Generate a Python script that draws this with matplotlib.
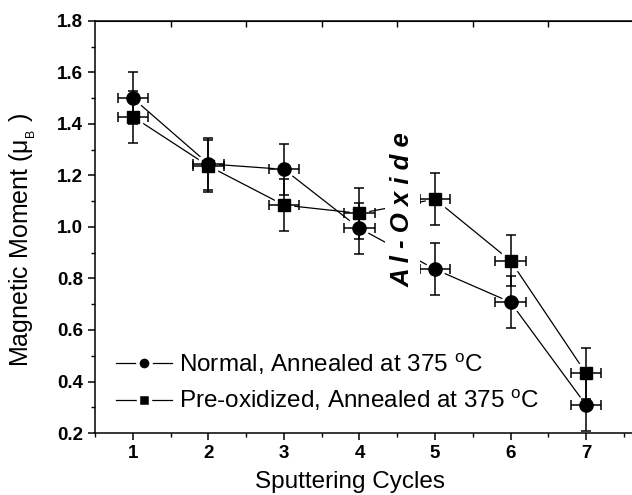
import matplotlib
matplotlib.use("Agg")
import matplotlib.pyplot as plt
from matplotlib.lines import Line2D
from matplotlib.ticker import MultipleLocator

plt.rcParams["font.family"] = ["Liberation Sans", "DejaVu Sans"]
plt.rcParams["mathtext.fontset"] = "custom"
plt.rcParams["mathtext.rm"] = "Liberation Sans"
plt.rcParams["mathtext.it"] = "Liberation Sans:italic"

cycles = [1, 2, 3, 4, 5, 6, 7]
normal = [1.50, 1.245, 1.224, 0.995, 0.836, 0.708, 0.309]
normal_err = [0.10, 0.10, 0.10, 0.10, 0.10, 0.10, 0.10]
preox = [1.428, 1.237, 1.085, 1.053, 1.108, 0.869, 0.432]
preox_err = [0.10, 0.10, 0.10, 0.10, 0.10, 0.10, 0.10]
cycle_err = 0.2

labels = ["Normal, Annealed at 375 $^{\\mathrm{o}}$C",
          "Pre-oxidized, Annealed at 375 $^{\\mathrm{o}}$C"]

W, H = 632, 495
fig = plt.figure(figsize=(W / 100, H / 100), dpi=100)
ax = fig.add_axes([95 / W, (H - 433) / H, 545 / W, 412 / H])


def draw(y, yerr, marker, ms):
    ax.plot(cycles, y, color="black", lw=0.9, zorder=1)
    # white halo leaves a small gap between line and marker
    ax.plot(cycles, y, ls="none", marker=marker, ms=ms + 4,
            mfc="white", mec="white", zorder=2)
    ax.errorbar(cycles, y, yerr=yerr, xerr=cycle_err, fmt="none",
                ecolor="black", elinewidth=1.1, capsize=3.5, capthick=1.1,
                zorder=3)
    ax.plot(cycles, y, ls="none", marker=marker, ms=ms,
            mfc="black", mec="black", zorder=4)
    return Line2D([], [], color="black", lw=0.9, marker=marker, ms=ms,
                  mfc="black", mec="white", mew=2.5)


h1 = draw(normal, normal_err, "o", 9.5)
h2 = draw(preox, preox_err, "s", 8.5)

ax.text(4.57, 1.066, "A l - O x i d e", rotation=90, ha="center",
        va="center", fontsize=18.5, fontweight="bold", fontstyle="italic",
        bbox=dict(facecolor="white", edgecolor="none", pad=4), zorder=5)

ax.set_xlim(0.497, 7.715)
ax.set_ylim(0.2, 1.8)
ax.xaxis.set_major_locator(MultipleLocator(1))
ax.xaxis.set_minor_locator(MultipleLocator(0.5))
ax.yaxis.set_major_locator(MultipleLocator(0.2))
ax.yaxis.set_minor_locator(MultipleLocator(0.1))
ax.yaxis.set_major_formatter(lambda v, p: f"{v:.1f}")
ax.tick_params(which="major", direction="out", length=5, width=1.1,
               labelsize=13.5, top=False, right=False)
ax.tick_params(which="minor", direction="out", length=3, width=1.0,
               top=False, right=False)
for t in ax.get_xticklabels() + ax.get_yticklabels():
    t.set_fontweight("bold")

sec = ax.secondary_xaxis("top")
sec.set_xticks([1.5, 2.5, 3.5, 4.5, 5.5, 6.5])
sec.tick_params(direction="in", length=4, width=1.0, labeltop=False)
ax.spines["right"].set_visible(False)
for s in ["left", "bottom", "top"]:
    ax.spines[s].set_linewidth(1.1)

ax.set_xlabel("Sputtering Cycles", fontsize=17.5)
ax.xaxis.set_label_coords(0.468, -0.092)
ax.set_ylabel("Magnetic Moment (μ$_{_\\mathrm{B}}$ )", fontsize=18)
ax.yaxis.set_label_coords(-0.105, 0.468)

ax.legend([h1, h2], labels, loc="upper left", bbox_to_anchor=(0.02, 0.221),
          frameon=False, fontsize=17.5, handlelength=2.3, handletextpad=0.3,
          labelspacing=0.45, borderaxespad=0)

fig.savefig("out.png", dpi=100)
